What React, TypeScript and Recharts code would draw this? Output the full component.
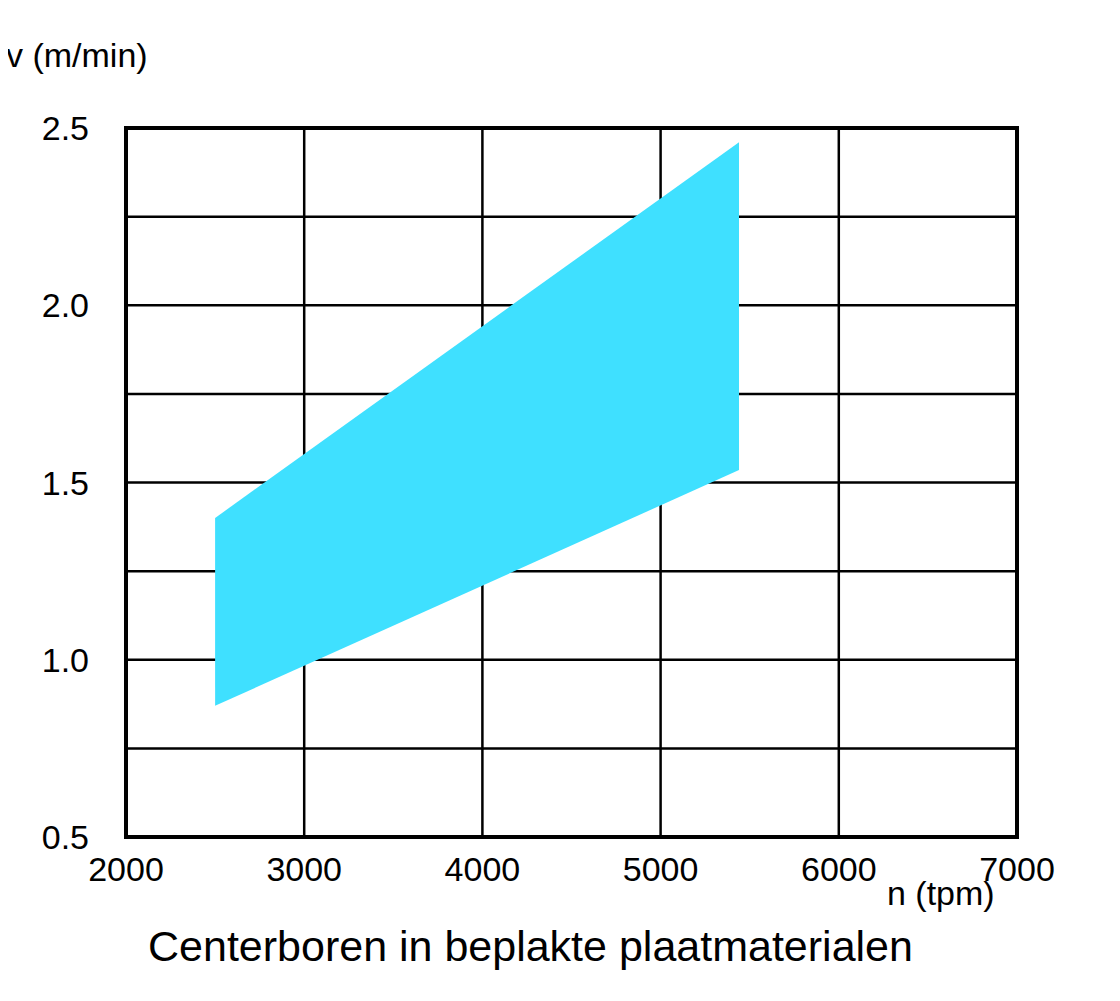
import { ComposedChart, Area, XAxis, YAxis, CartesianGrid, ReferenceArea } from 'recharts';

const speedTicks = [2000, 3000, 4000, 5000, 6000, 7000];
const feedTicks = [0.5, 0.75, 1.0, 1.25, 1.5, 1.75, 2.0, 2.25, 2.5];
const bandSpeeds = [2500, 5440];
const bandLow = [0.87, 1.535];
const bandHigh = [1.4, 2.46];

const data = bandSpeeds.map((n, i) => ({ n, v: [bandLow[i], bandHigh[i]] }));

const font = '"Liberation Sans", Arial, sans-serif';

const textStyle: React.CSSProperties = {
  position: 'absolute',
  fontFamily: font,
  fontSize: 34,
  lineHeight: 1,
  whiteSpace: 'nowrap',
  color: '#000',
};

export default function App() {
  return (
    <div style={{ position: 'relative', width: 1104, height: 985 }}>
      <ComposedChart width={1104} height={985} data={data} margin={{ top: 120, right: 95, bottom: 96, left: 0 }}>
        <CartesianGrid stroke="#000" strokeWidth={2.5} />
        <XAxis
          type="number"
          dataKey="n"
          domain={[2000, 7000]}
          ticks={speedTicks}
          axisLine={false}
          tickLine={false}
          tickSize={0}
          tickMargin={20}
          height={60}
          interval={0}
          tick={{ fill: '#000', fontSize: 34, fontFamily: font }}
        />
        <YAxis
          type="number"
          domain={[0.5, 2.5]}
          ticks={feedTicks}
          axisLine={false}
          tickLine={false}
          tickSize={0}
          tickMargin={37}
          width={118}
          interval={0}
          tickFormatter={(value: number) => (value * 2) % 1 === 0 ? value.toFixed(1) : ''}
          tick={{ fill: '#000', fontSize: 34, fontFamily: font }}
        />
        <Area
          type="linear"
          dataKey="v"
          fill="#3FE0FF"
          fillOpacity={1}
          stroke="none"
          isAnimationActive={false}
        />
        <ReferenceArea x1={2000} x2={7000} y1={0.5} y2={2.5} fill="none" stroke="#000" strokeWidth={4} />
      </ComposedChart>
      <div style={{ ...textStyle, left: -2, top: 30 }}>v (m/min)</div>
      <div style={{ ...textStyle, left: 879, top: 868 }}>n (tpm)</div>
      <div style={{ ...textStyle, fontSize: 43, left: 140, top: 917 }}>Centerboren in beplakte plaatmaterialen</div>
    </div>
  );
}
